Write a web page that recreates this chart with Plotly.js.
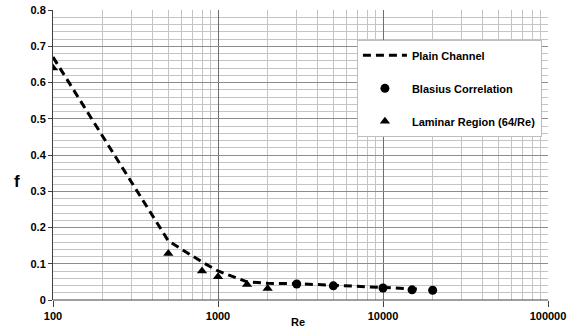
<!DOCTYPE html>
<html>
<head>
<meta charset="utf-8">
<script src="https://cdn.plot.ly/plotly-3.0.1.min.js"></script>
<style>html,body{margin:0;padding:0;background:#fff;}#chart{width:573px;height:334px;}</style>
</head>
<body>
<div id="chart"></div>
<script>
// Plain Channel (dashed line)
var plainRe = [100, 500, 800, 1000, 1500, 2000, 3000, 5000, 10000, 15000, 17000];
var plainF  = [0.67, 0.163, 0.105, 0.08, 0.05, 0.046, 0.045, 0.041, 0.036, 0.031, 0.03];
// Blasius Correlation (circles)
var blasiusRe = [3000, 5000, 10000, 15000, 20000];
var blasiusF  = [0.044, 0.039, 0.033, 0.028, 0.027];
// Laminar Region 64/Re (triangles)
var laminarRe = [100, 500, 800, 1000, 1500, 2000];
var laminarF  = [0.64, 0.128, 0.08, 0.064, 0.043, 0.032];
// Axis ticks
var xTickVals = [100, 1000, 10000, 100000];
var xTickText = ['100', '1000', '10000', '100000'];
var yTickVals = [0, 0.1, 0.2, 0.3, 0.4, 0.5, 0.6, 0.7, 0.8];
var yTickText = ['0', '0.1', '0.2', '0.3', '0.4', '0.5', '0.6', '0.7', '0.8'];

var FONT = '"Liberation Sans", Arial, sans-serif';
var F11 = {family: FONT, size: 11, color: '#000', weight: 'bold'};

var traces = [
  {x: plainRe, y: plainF, name: 'Plain Channel', mode: 'lines', legendgroup: 'a',
   line: {color: '#000', width: 3, dash: '8px,5px'}},
  {x: blasiusRe, y: blasiusF, name: 'Blasius Correlation', mode: 'markers', legendgroup: 'b',
   marker: {color: '#000', size: 9, symbol: 'circle'}},
  {x: laminarRe, y: laminarF, name: 'Laminar Region (64/Re)', mode: 'markers', legendgroup: 'c',
   marker: {color: '#000', size: 9, symbol: 'triangle-up'}}
];

var layout = {
  width: 573, height: 334,
  margin: {l: 53, r: 25, t: 10, b: 34, pad: 0},
  paper_bgcolor: '#fff', plot_bgcolor: '#fff',
  font: F11,
  showlegend: true,
  legend: {
    x: 0.614, y: 0.897, xanchor: 'left', yanchor: 'top',
    bgcolor: '#fff', bordercolor: '#bdbdbd', borderwidth: 1,
    font: F11, itemwidth: 44,
    traceorder: 'grouped', tracegroupgap: 14
  },
  xaxis: {
    type: 'log', range: [2, 5],
    tickvals: xTickVals, ticktext: xTickText,
    showline: false, zeroline: false,
    ticks: 'outside', ticklen: 6, tickcolor: '#404040', tickwidth: 1,
    showgrid: true, gridcolor: '#6e6e6e', gridwidth: 1,
    minor: {tickvals: [200,300,400,500,600,700,800,900,2000,3000,4000,5000,6000,7000,8000,9000,20000,30000,40000,50000,60000,70000,80000,90000],
            showgrid: true, gridcolor: '#c4c4c4', gridwidth: 1, ticks: ''},
    tickfont: F11
  },
  yaxis: {
    range: [0, 0.8],
    tickvals: yTickVals, ticktext: yTickText,
    showline: true, linecolor: '#404040', linewidth: 1, mirror: false,
    zeroline: false,
    ticks: 'outside', ticklen: 4, tickcolor: '#404040',
    showgrid: true, gridcolor: '#8c8c8c', gridwidth: 1,
    minor: {dtick: 0.02, showgrid: true, gridcolor: '#c4c4c4', gridwidth: 1, ticks: ''},
    tickfont: F11
  },
  annotations: [
    {text: 'Re', xref: 'paper', yref: 'paper', x: 0.495, y: -0.075, xanchor: 'center', yanchor: 'middle',
     showarrow: false, font: F11},
    {text: 'f', xref: 'paper', yref: 'paper', x: -0.073, y: 0.41, xanchor: 'center', yanchor: 'middle',
     showarrow: false, font: {family: FONT, size: 17, color: '#000', weight: 'bold'}}
  ],
  shapes: [
    {type: 'line', xref: 'paper', yref: 'paper', x0: 0, x1: 1, y0: 0, y1: 0, line: {color: '#404040', width: 1}}
  ]
};

Plotly.newPlot('chart', traces, layout, {displayModeBar: false, staticPlot: true});
</script>
</body>
</html>
